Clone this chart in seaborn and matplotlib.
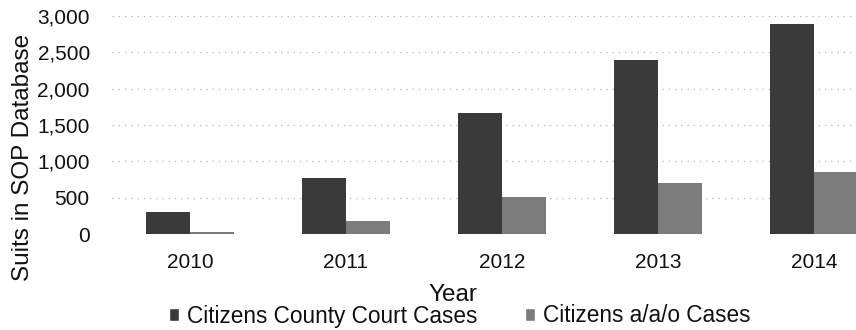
import matplotlib
matplotlib.use("Agg")
import matplotlib.pyplot as plt
import seaborn as sns
import pandas as pd
from matplotlib.ticker import FuncFormatter

years = ["2010", "2011", "2012", "2013", "2014"]
county_court = [300, 770, 1660, 2390, 2890]
aao_cases = [25, 180, 510, 700, 850]
series_names = ["Citizens County Court Cases", "Citizens a/a/o Cases"]

df = pd.DataFrame({
    "Year": years * 2,
    "Suits": county_court + aao_cases,
    "Series": [series_names[0]] * len(years) + [series_names[1]] * len(years),
})

sns.set_theme(style="white")
plt.rcParams["font.family"] = ["Liberation Sans", "DejaVu Sans"]

fig = plt.figure(figsize=(8.56, 3.3), dpi=100)
ax = fig.add_axes([112 / 856, 96 / 330, 780 / 856, 218 / 330])

sns.barplot(data=df, x="Year", y="Suits", hue="Series", ax=ax,
            palette=["#3a3a3a", "#7c7c7c"], width=0.56, gap=0,
            saturation=1, edgecolor="none", legend=False)

ax.set_xlim(-0.5, 4.5)
ax.set_ylim(0, 3000)
ax.set_yticks(range(0, 3001, 500))
ax.yaxis.set_major_formatter(FuncFormatter(lambda v, p: f"{int(v):,}"))
ax.yaxis.grid(True, color="#b4b4b4", linestyle=(0, (1, 4)), linewidth=0.9)
ax.set_axisbelow(True)
for s in ax.spines.values():
    s.set_visible(False)
ax.tick_params(axis="y", length=0, pad=16, labelsize=15, colors="#111111")
ax.tick_params(axis="x", length=0, pad=14, labelsize=15, colors="#111111")
ax.set_xlabel("")
ax.set_ylabel("")

fig.text(453 / 856, 1 - 295 / 330, "Year", ha="center", va="center",
         fontsize=17.5, color="#111111")
fig.text(23 / 856, 1 - 157 / 330, "Suits in SOP Database", ha="center",
         va="center", rotation=90, fontsize=17.5, color="#111111")

handles = [plt.Rectangle((0, 0), 1, 1, facecolor=c) for c in ["#3a3a3a", "#7c7c7c"]]
fig.legend(handles, series_names, loc="center", ncol=2,
           bbox_to_anchor=(460 / 856, 1 - 316 / 330), frameon=False,
           fontsize=16.3, handlelength=0.45, handleheight=0.45,
           handletextpad=0.35, columnspacing=2.1, borderpad=0,
           labelcolor="#111111")

fig.savefig("out.png", dpi=100)
